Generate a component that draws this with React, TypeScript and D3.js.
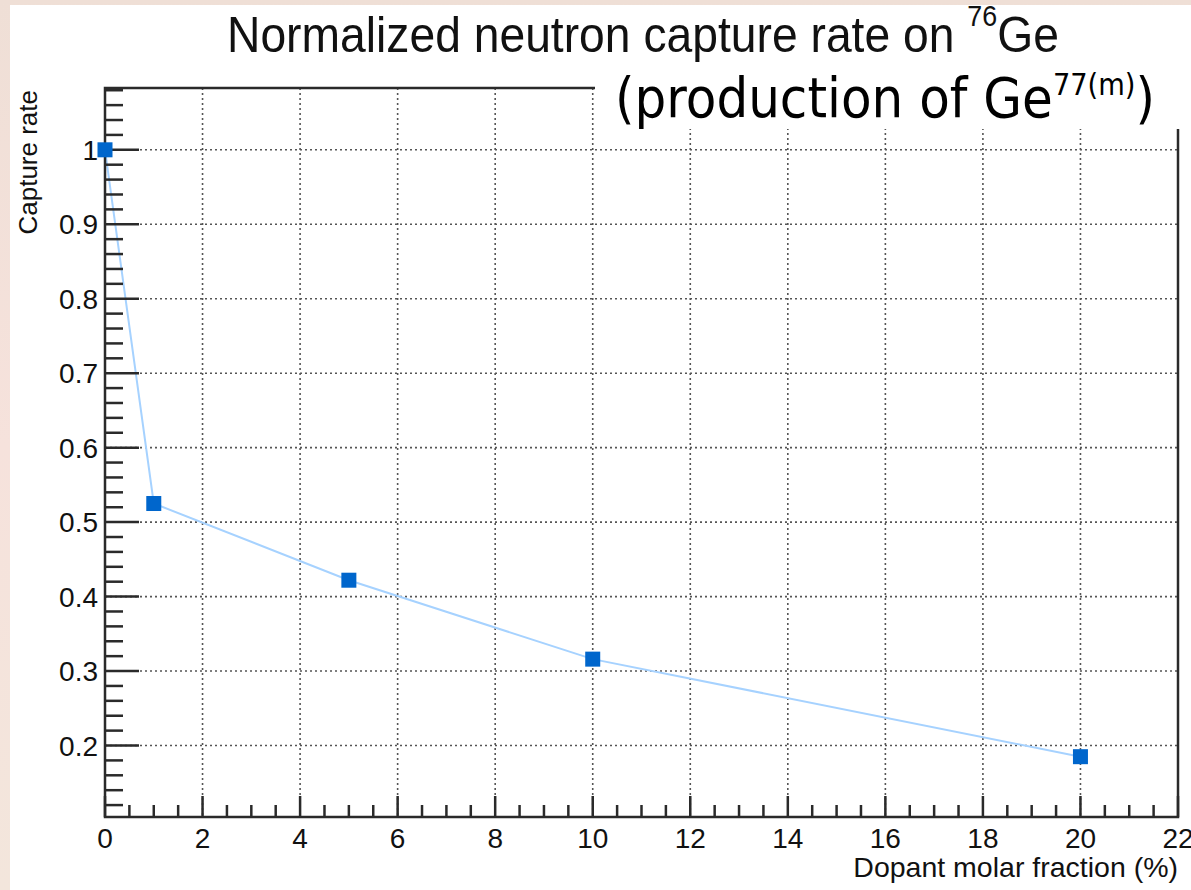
import React, { useEffect } from 'react';
import * as d3 from 'd3';

// ---- data ----
const dopantFractions = [0, 1, 5, 10, 20];
const captureRates = [1.0, 0.525, 0.422, 0.316, 0.185];
const xTickValues = [0, 2, 4, 6, 8, 10, 12, 14, 16, 18, 20, 22];
const xTickLabels = ['0', '2', '4', '6', '8', '10', '12', '14', '16', '18', '20', '22'];
const yTickValues = [0.2, 0.3, 0.4, 0.5, 0.6, 0.7, 0.8, 0.9, 1.0];
const yTickLabels = ['0.2', '0.3', '0.4', '0.5', '0.6', '0.7', '0.8', '0.9', '1'];
const xDomain = [0, 22];
const yDomain = [0.104, 1.083];

const W = 1191;
const H = 890;
const plot = { left: 105, right: 1178, top: 88, bottom: 817 };

export default function App() {
  useEffect(() => {
    document.body.style.margin = '0';
  }, []);

  const x = d3.scaleLinear().domain(xDomain).range([plot.left, plot.right]);
  const y = d3.scaleLinear().domain(yDomain).range([plot.bottom, plot.top]);

  const xMinor = d3.range(0.5, 22, 0.5).filter((v) => Math.abs(v / 2 - Math.round(v / 2)) > 1e-6);
  const yMinor = d3
    .range(0.12, 1.0801, 0.02)
    .filter((v) => Math.abs(v * 10 - Math.round(v * 10)) > 1e-6);

  const pts = dopantFractions.map((d, i) => [d, captureRates[i]] as [number, number]);
  const line = d3
    .line<[number, number]>()
    .x((d) => x(d[0]))
    .y((d) => y(d[1]));

  const axisColor = '#2a2a2a';
  const gridColor = '#555';
  const font = '"Liberation Sans", Arial, Helvetica, sans-serif';

  return (
    <svg
      width={W}
      height={H}
      style={{ display: 'block', position: 'absolute', left: 0, top: 0 }}
    >
      <defs>
        <linearGradient id="bg" x1="0" y1="0" x2="0" y2="1">
          <stop offset="0" stopColor="#efdfd6" />
          <stop offset="0.5" stopColor="#f6e2dc" />
          <stop offset="1" stopColor="#f3e6dc" />
        </linearGradient>
      </defs>
      <rect x={0} y={0} width={W} height={H} fill="url(#bg)" />
      <rect x={10} y={5} width={W - 10} height={H - 5} fill="#ffffff" />

      {/* grid */}
      <g stroke={gridColor} strokeWidth={1.6} strokeDasharray="2,3">
        {xTickValues
          .filter((v) => v > 0 && v < 22)
          .map((v) => (
            <line key={'gx' + v} x1={x(v)} x2={x(v)} y1={plot.top} y2={plot.bottom} />
          ))}
        {yTickValues.map((v) => (
          <line key={'gy' + v} x1={plot.left} x2={plot.right} y1={y(v)} y2={y(v)} />
        ))}
      </g>

      {/* series line */}
      <path d={line(pts) || ''} fill="none" stroke="#a6d2ff" strokeWidth={2} />

      {/* frame */}
      <rect
        x={plot.left}
        y={plot.top}
        width={plot.right - plot.left}
        height={plot.bottom - plot.top}
        fill="none"
        stroke={axisColor}
        strokeWidth={2.5}
      />

      {/* ticks */}
      <g stroke={axisColor} strokeWidth={2.5}>
        {yTickValues.map((v) => (
          <line key={'yt' + v} x1={plot.left} x2={plot.left + 34} y1={y(v)} y2={y(v)} />
        ))}
        {yMinor.map((v) => (
          <line key={'ym' + v} x1={plot.left} x2={plot.left + 18} y1={y(v)} y2={y(v)} />
        ))}
        {xTickValues.map((v) => (
          <line key={'xt' + v} x1={x(v)} x2={x(v)} y1={plot.bottom} y2={plot.bottom - 21} />
        ))}
        {xMinor.map((v) => (
          <line key={'xm' + v} x1={x(v)} x2={x(v)} y1={plot.bottom} y2={plot.bottom - 12} />
        ))}
      </g>

      {/* tick labels */}
      <g fontFamily={font} fontSize={28} fill="#111">
        {yTickValues.map((v, i) => (
          <text key={'yl' + v} x={98} y={y(v) + 10} textAnchor="end">
            {yTickLabels[i]}
          </text>
        ))}
        {xTickValues.map((v, i) => (
          <text key={'xl' + v} x={x(v)} y={848} textAnchor="middle">
            {xTickLabels[i]}
          </text>
        ))}
      </g>

      {/* markers */}
      {pts.map((d, i) => (
        <rect
          key={'m' + i}
          x={x(d[0]) - 7.5}
          y={y(d[1]) - 7.5}
          width={15}
          height={15}
          fill="#0066cc"
        />
      ))}

      {/* axis titles */}
      <text
        x={plot.right}
        y={877}
        textAnchor="end"
        fontFamily={font}
        fontSize={28.5}
        fill="#111"
      >
        Dopant molar fraction (%)
      </text>
      <text
        transform={`translate(37, ${plot.top + 2}) rotate(-90)`}
        textAnchor="end"
        fontFamily={font}
        fontSize={26}
        fill="#111"
      >
        Capture rate
      </text>

      {/* title line 1 */}
      <g transform="translate(227, 52) scale(0.925, 1)">
        <text fontFamily={font} fontSize={50} fill="#111">
          Normalized neutron capture rate on{' '}
          <tspan fontSize={29} dy={-26}>
            76
          </tspan>
          <tspan dy={26}>Ge</tspan>
        </text>
      </g>

      {/* white box with second title line */}
      <rect x={595} y={66} width={W - 595} height={63} fill="#ffffff" />
      <g transform="translate(615, 117) scale(0.91, 1)">
        <text fontFamily='"DejaVu Sans", Verdana, sans-serif' fontSize={55} fill="#000">
          (production of Ge
          <tspan fontSize={30} dy={-22}>
            77(m)
          </tspan>
          <tspan fontSize={55} dy={22}>
            )
          </tspan>
        </text>
      </g>
    </svg>
  );
}
